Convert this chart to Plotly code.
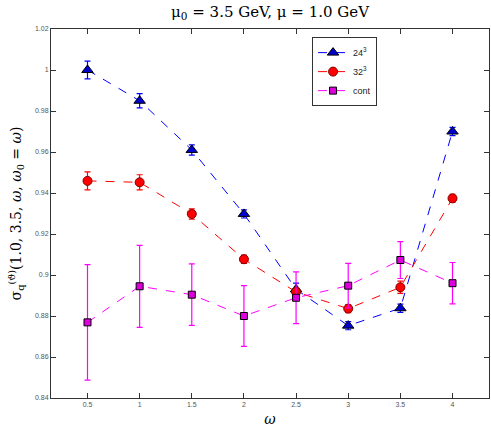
import plotly.graph_objects as go

omega = [0.5, 1.0, 1.5, 2.0, 2.5, 3.0, 3.5, 4.0]

s24 = [1.000, 0.985, 0.961, 0.9298, 0.893, 0.8753, 0.8838, 0.970]
e24 = [0.0043, 0.0035, 0.0025, 0.002, 0.003, 0.002, 0.002, 0.002]

s32 = [0.9459, 0.9452, 0.9298, 0.9077, 0.8917, 0.8836, 0.894, 0.9374]
e32 = [0.0044, 0.0037, 0.0025, 0.002, 0.002, 0.002, 0.003, 0.002]

scont = [0.8769, 0.8945, 0.8904, 0.880, 0.8889, 0.8948, 0.9073, 0.896]
econt = [0.0282, 0.020, 0.015, 0.0148, 0.0126, 0.0109, 0.009, 0.0101]

names = ["24<sup>3</sup>", "32<sup>3</sup>", "cont"]

fig = go.Figure()

fig.add_trace(go.Scatter(
    x=omega, y=s24, name=names[0], mode="lines+markers",
    line=dict(color="#0000ff", dash="dash", width=1),
    marker=dict(symbol="triangle-up", size=10, color="#0000cc",
                line=dict(color="black", width=1)),
    error_y=dict(type="data", array=e24, color="#0000ff", thickness=1.2, width=3),
))
fig.add_trace(go.Scatter(
    x=omega, y=s32, name=names[1], mode="lines+markers",
    line=dict(color="#ff0000", dash="dash", width=1),
    marker=dict(symbol="circle", size=9, color="#ff0000",
                line=dict(color="#800000", width=1)),
    error_y=dict(type="data", array=e32, color="#ff0000", thickness=1.2, width=3),
))
fig.add_trace(go.Scatter(
    x=omega, y=scont, name=names[2], mode="lines+markers",
    line=dict(color="#ff00ff", dash="dash", width=1),
    marker=dict(symbol="square", size=7, color="#dd00dd",
                line=dict(color="black", width=1)),
    error_y=dict(type="data", array=econt, color="#ff00ff", thickness=1.2, width=3),
))

fig.update_layout(
    width=491, height=430,
    margin=dict(l=51, r=2, t=29, b=32),
    paper_bgcolor="white", plot_bgcolor="white",
    title=dict(
        text="μ<sub>0</sub> = 3.5 GeV, μ = 1.0 GeV",
        x=0.55, xanchor="center", y=0.985, yanchor="top",
        font=dict(family="DejaVu Serif", size=15, color="black"),
    ),
    showlegend=True,
    legend=dict(
        x=0.596, xanchor="left", y=0.978, yanchor="top",
        bgcolor="white", bordercolor="#333", borderwidth=1,
        font=dict(family="Liberation Sans", size=9, color="#222"),
        itemwidth=30, tracegroupgap=0,
    ),
    xaxis=dict(
        range=[0.15, 4.35],
        tickvals=omega, ticktext=["0.5", "1", "1.5", "2", "2.5", "3", "3.5", "4"],
        ticks="inside", ticklen=5, tickcolor="#333",
        showline=True, linecolor="#333", linewidth=1, mirror="ticks",
        showgrid=False, zeroline=False,
        tickfont=dict(family="Liberation Sans", size=7, color="#555"),
        title=dict(text="<i>ω</i>", font=dict(family="DejaVu Serif", size=14, color="black"),
                   standoff=6),
    ),
    yaxis=dict(
        range=[0.84, 1.02],
        tickvals=[0.84, 0.86, 0.88, 0.90, 0.92, 0.94, 0.96, 0.98, 1.0, 1.02],
        ticktext=["0.84", "0.86", "0.88", "0.9", "0.92", "0.94", "0.96", "0.98", "1", "1.02"],
        ticks="inside", ticklen=5, tickcolor="#333",
        showline=True, linecolor="#333", linewidth=1, mirror="ticks",
        showgrid=False, zeroline=False,
        tickfont=dict(family="Liberation Sans", size=7, color="#555"),
        title=dict(text="σ<sub>q</sub><sup>(ϑ)</sup>(1.0, 3.5, <i>ω</i>, <i>ω</i><sub>0</sub> = <i>ω</i>)",
                   font=dict(family="DejaVu Serif", size=14, color="black"),
                   standoff=10),
    ),
)

fig.write_html("out.html")
